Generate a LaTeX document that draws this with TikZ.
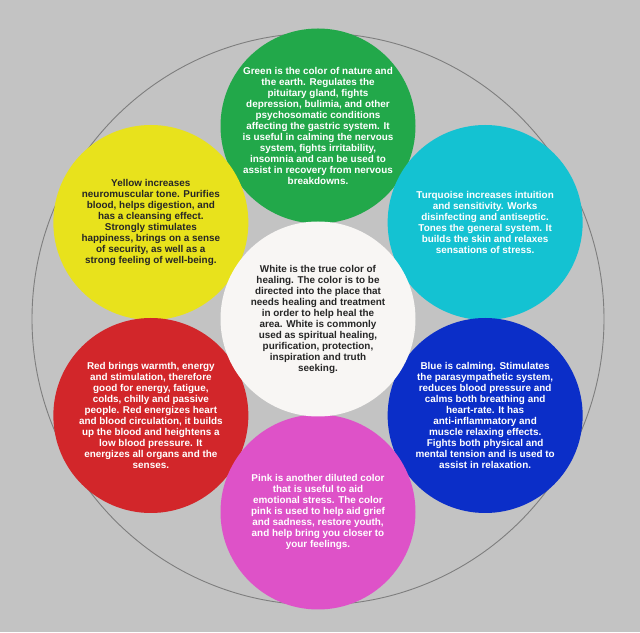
\documentclass[tikz,border=0pt]{standalone}
\usepackage{fontspec}
\setmainfont{Liberation Sans}
\usetikzlibrary{calc,positioning}

\definecolor{bggray}{HTML}{C3C3C3}
\definecolor{ringgray}{HTML}{7E7E7E}
\definecolor{cgreen}{HTML}{22A84A}
\definecolor{cturq}{HTML}{14C2D2}
\definecolor{cblue}{HTML}{0B2EC8}
\definecolor{cpink}{HTML}{DE52C8}
\definecolor{cred}{HTML}{D2262A}
\definecolor{cyellow}{HTML}{E8E21C}
\definecolor{cwhite}{HTML}{F8F6F4}

\begin{document}
\begin{tikzpicture}[x=1pt,y=1pt]

\tikzset{petal/.style = {shape=circle, minimum size=195pt, inner sep=-10pt, align=center,
  font=\bfseries\fontsize{9.9}{11}\selectfont}}
\tikzset{lighttext/.style = {petal, text=white}}
\tikzset{darktext/.style = {petal, text=black!85}}

% background and outer ring
\fill[bggray] (0,0) rectangle (640,632);
\useasboundingbox (0,0) rectangle (640,632);
\coordinate (hub) at (318,313);
\draw[ringgray, line width=0.9pt] (hub) circle (286);

% petals
\node[lighttext, fill=cgreen] (green) at ([shift={(90:193)}]hub)
  {Green is the color of nature and\\the earth. Regulates the\\pituitary gland, fights\\depression, bulimia, and other\\psychosomatic conditions\\affecting the gastric system. It\\is useful in calming the nervous\\system, fights irritability,\\insomnia and can be used to\\assist in recovery from nervous\\breakdowns.};
\node[lighttext, fill=cturq] (turquoise) at ([shift={(30:193)}]hub)
  {Turquoise increases intuition\\and sensitivity. Works\\disinfecting and antiseptic.\\Tones the general system. It\\builds the skin and relaxes\\sensations of stress.};
\node[lighttext, fill=cblue] (blue) at ([shift={(-30:193)}]hub)
  {Blue is calming. Stimulates\\the parasympathetic system,\\reduces blood pressure and\\calms both breathing and\\heart-rate. It has\\anti-inflammatory and\\muscle relaxing effects.\\Fights both physical and\\mental tension and is used to\\assist in relaxation.};
\node[darktext, fill=cyellow] (yellow) at ([shift={(150:193)}]hub)
  {Yellow increases\\neuromuscular tone. Purifies\\blood, helps digestion, and\\has a cleansing effect.\\Strongly stimulates\\happiness, brings on a sense\\of security, as well as a\\strong feeling of well-being.};
\node[lighttext, fill=cred] (red) at ([shift={(210:193)}]hub)
  {Red brings warmth, energy\\and stimulation, therefore\\good for energy, fatigue,\\colds, chilly and passive\\people. Red energizes heart\\and blood circulation, it builds\\up the blood and heightens a\\low blood pressure. It\\energizes all organs and the\\senses.};
\node[lighttext, fill=cpink] (pink) at ([shift={(270:193)}]hub)
  {Pink is another diluted color\\that is useful to aid\\emotional stress. The color\\pink is used to help aid grief\\and sadness, restore youth,\\and help bring you closer to\\your feelings.};

% centre
\node[darktext, fill=cwhite] (white) at (hub)
  {White is the true color of\\healing. The color is to be\\directed into the place that\\needs healing and treatment\\in order to help heal the\\area. White is commonly\\used as spiritual healing,\\purification, protection,\\inspiration and truth\\seeking.};

\end{tikzpicture}
\end{document}
